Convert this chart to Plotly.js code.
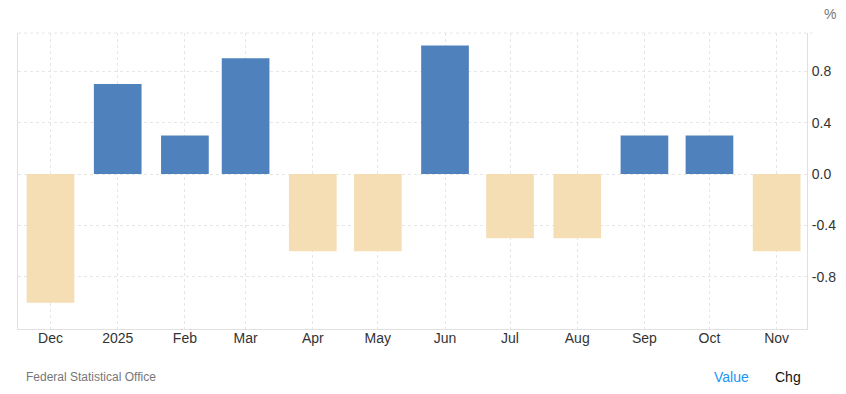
<!DOCTYPE html>
<html><head><meta charset="utf-8">
<script src="https://cdn.plot.ly/plotly-3.0.1.min.js"></script>
<style>html,body{margin:0;padding:0;background:#fff;}#chart{width:846px;height:394px;}</style>
</head><body><div id="chart"></div>
<script>
const months = ["2024-12-01","2025-01-01","2025-02-01","2025-03-01","2025-04-01","2025-05-01","2025-06-01","2025-07-01","2025-08-01","2025-09-01","2025-10-01","2025-11-01"];
const tickLabels = ["Dec","2025","Feb","Mar","Apr","May","Jun","Jul","Aug","Sep","Oct","Nov"];
const values = [-1.0, 0.7, 0.3, 0.9, -0.6, -0.6, 1.0, -0.5, -0.5, 0.3, 0.3, -0.6];
const yTicks = [0.8, 0.4, 0.0, -0.4, -0.8];
const yTickText = ["0.8","0.4","0.0","-0.4","-0.8"];

const colors = values.map(v => v >= 0 ? "#4f81bd" : "#f5deb3");
const DAY = 86400000;

const trace = {
  type: "bar",
  x: months,
  y: values,
  width: months.map(() => 22 * DAY),
  marker: {color: colors},
  hoverinfo: "x+y"
};

const layout = {
  width: 846, height: 394,
  margin: {l: 18, r: 39, t: 33, b: 65},
  paper_bgcolor: "#fff", plot_bgcolor: "#fff",
  showlegend: false,
  font: {family: "Arial, 'Liberation Sans', sans-serif", color: "#333", size: 14},
  xaxis: {
    type: "date",
    range: ["2024-11-16", "2025-11-15"],
    tickvals: months,
    ticktext: tickLabels,
    showgrid: true, gridcolor: "#e6e6e6", griddash: "dot", gridwidth: 1,
    showline: true, linecolor: "#e0e0e0", linewidth: 1,
    ticks: "", ticklen: 0, ticklabelstandoff: -4,
    tickfont: {size: 14, color: "#333"},
    zeroline: false, fixedrange: true
  },
  yaxis: {
    side: "right",
    range: [-1.205, 1.097],
    tickvals: yTicks,
    ticktext: yTickText,
    showgrid: true, gridcolor: "#e6e6e6", griddash: "dot", gridwidth: 1,
    showline: true, mirror: true, linecolor: "#e0e0e0", linewidth: 1,
    ticks: "outside", ticklen: 1, tickcolor: "rgba(0,0,0,0)",
    tickfont: {size: 14, color: "#333"},
    zeroline: false, fixedrange: true
  },
  shapes: [
    {type: "line", xref: "paper", yref: "paper", x0: 0, x1: 1.012, y0: 1, y1: 1,
     line: {color: "#e6e6e6", width: 1, dash: "dot"}}
  ],
  annotations: [
    {text: "%", xref: "paper", yref: "paper", x: 1.019, y: 1.064, xanchor: "left", yanchor: "middle",
     showarrow: false, font: {size: 14, color: "#777"}},
    {text: "Federal Statistical Office", xref: "paper", yref: "paper", x: 0.007, y: -0.133,
     xanchor: "left", yanchor: "top", showarrow: false, font: {size: 12, color: "#777"}},
    {text: "Value", xref: "paper", yref: "paper", x: 0.880, y: -0.128,
     xanchor: "left", yanchor: "top", showarrow: false, font: {size: 14, color: "#2196f3"}},
    {text: "Chg", xref: "paper", yref: "paper", x: 0.957, y: -0.128,
     xanchor: "left", yanchor: "top", showarrow: false, font: {size: 14, color: "#111"}}
  ]
};

Plotly.newPlot("chart", [trace], layout, {displayModeBar: false, staticPlot: true});
</script></body></html>
